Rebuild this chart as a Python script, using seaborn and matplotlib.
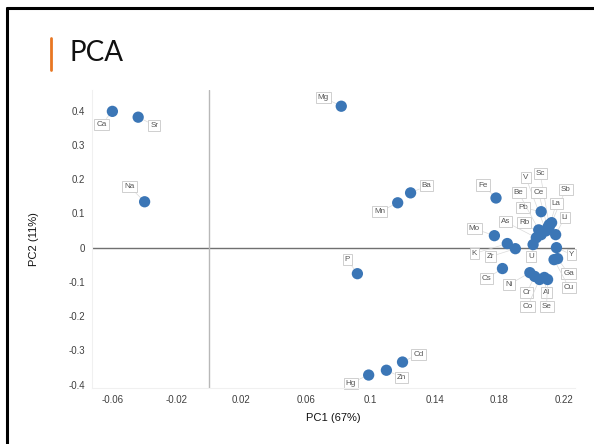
import matplotlib
matplotlib.use("Agg")
import matplotlib.pyplot as plt
import pandas as pd
import seaborn as sns
from matplotlib.lines import Line2D

# --- data ---
elements = [
    "Ca", "Sr", "Na", "Mg", "Ba", "Mn", "Fe", "P", "Cd", "Zn", "Hg",
    "Mo", "K", "Zr", "Cs", "U", "Pb", "As", "Rb", "V", "Sc", "Be", "Ce",
    "Sb", "La", "Li", "Y", "Ga", "Cu", "Ni", "Cr", "Al", "Co", "Se",
]
pc1 = [
    -0.060, -0.044, -0.040, 0.082, 0.125, 0.117, 0.178, 0.092, 0.120, 0.110, 0.099,
    0.177, 0.185, 0.190, 0.182, 0.201, 0.206, 0.203, 0.206, 0.209, 0.211, 0.2045, 0.210,
    0.2125, 0.211, 0.215, 0.2155, 0.2162, 0.214, 0.199, 0.202, 0.208, 0.205, 0.210,
]
pc2 = [
    0.398, 0.381, 0.134, 0.413, 0.160, 0.131, 0.145, -0.076, -0.334, -0.358, -0.372,
    0.035, 0.012, -0.003, -0.061, 0.009, 0.105, 0.029, 0.038, 0.049, 0.067, 0.052, 0.058,
    0.073, 0.061, 0.038, 0.000, -0.032, -0.035, -0.073, -0.084, -0.087, -0.093, -0.093,
]
x_ticks = [-0.06, -0.02, 0.02, 0.06, 0.1, 0.14, 0.18, 0.22]
x_tick_labels = ["-0.06", "-0.02", "0.02", "0.06", "0.1", "0.14", "0.18", "0.22"]
y_ticks = [-0.4, -0.3, -0.2, -0.1, 0, 0.1, 0.2, 0.3, 0.4]
y_tick_labels = ["-0.4", "-0.3", "-0.2", "-0.1", "0", "0.1", "0.2", "0.3", "0.4"]

# label placement (pixel offsets from the point)
label_offsets = {
    "Ca": (-11, -13), "Sr": (16, -8), "Na": (-15, 15), "Mg": (-18, 9),
    "Ba": (16, 7), "Mn": (-18, -9), "Fe": (-13, 13), "P": (-10, 14),
    "Cd": (16, 8), "Zn": (15, -7), "Hg": (-18, -8),
    "Mo": (-20, 7), "K": (-33, -10), "Zr": (-25, -8), "Cs": (-16, -10),
    "U": (-2, -12), "Pb": (-18, 4), "As": (-31, 16), "Rb": (-17, 12),
    "V": (-20, 53), "Sc": (-9, 51), "Be": (-20, 37), "Ce": (-9, 35),
    "Sb": (14, 33), "La": (7, 23), "Li": (9, 17), "Y": (15, -7),
    "Ga": (11, -15), "Cu": (15, -28), "Ni": (-21, -12), "Cr": (-8, -16),
    "Al": (2, -15), "Co": (-12, -27), "Se": (-1, -27),
}

df = pd.DataFrame({"element": elements, "PC1": pc1, "PC2": pc2})

sns.set_theme(style="white")
plt.rcParams["font.family"] = ["Liberation Sans", "DejaVu Sans"]

fig = plt.figure(figsize=(5.94, 4.44), dpi=100)
ax = fig.add_axes([0.155, 0.126, 0.813, 0.671])

ax.axhline(0, color="#707070", lw=1.0, zorder=1)
ax.axvline(0, color="#b8b8b8", lw=1.0, zorder=1)

for _, row in df.iterrows():
    dx, dy = label_offsets[row["element"]]
    ax.annotate(
        row["element"], (row["PC1"], row["PC2"]),
        xytext=(dx, dy), textcoords="offset pixels",
        ha="center", va="center", fontsize=5.8, color="#555555",
        bbox=dict(boxstyle="square,pad=0.25", fc="white", ec="#c8c8c8", lw=0.6),
        arrowprops=dict(arrowstyle="-", color="#dadada", lw=0.5,
                        shrinkA=0, shrinkB=0),
        zorder=2,
    )

sns.scatterplot(data=df, x="PC1", y="PC2", ax=ax, s=66, color="#3b76b6",
                edgecolor="none", zorder=3, legend=False)

ax.set_xlim(-0.0726, 0.227)
ax.set_ylim(-0.41, 0.46)
ax.set_xticks(x_ticks)
ax.set_xticklabels(x_tick_labels)
ax.set_yticks(y_ticks)
ax.set_yticklabels(y_tick_labels)
ax.tick_params(axis="both", length=0, labelsize=7, labelcolor="#404040", pad=5)
ax.set_xlabel("PC1 (67%)", fontsize=8, color="#111111", labelpad=6)
ax.set_ylabel("PC2 (11%)", fontsize=8, color="#111111", labelpad=21)

for side in ["top", "right"]:
    ax.spines[side].set_visible(False)
for side in ["left", "bottom"]:
    ax.spines[side].set_color("#f0f0f0")
    ax.spines[side].set_linewidth(0.8)

# slide decorations: title, orange accent, frame
fig.text(70 / 594, 1 - 53 / 444, "PCA", fontsize=20, va="center", ha="left",
         family=["Lato", "DejaVu Sans"], color="#111111")
fig.add_artist(Line2D([51 / 594, 51 / 594], [1 - 38 / 444, 1 - 70 / 444],
                      color="#e87722", lw=2.0))
fig.add_artist(Line2D([7 / 594, 7 / 594], [0, 1 - 8 / 444], color="black", lw=2.2))
fig.add_artist(Line2D([7 / 594, 1], [1 - 8 / 444, 1 - 8 / 444], color="black", lw=2.2))

fig.savefig("out.png", dpi=100)
